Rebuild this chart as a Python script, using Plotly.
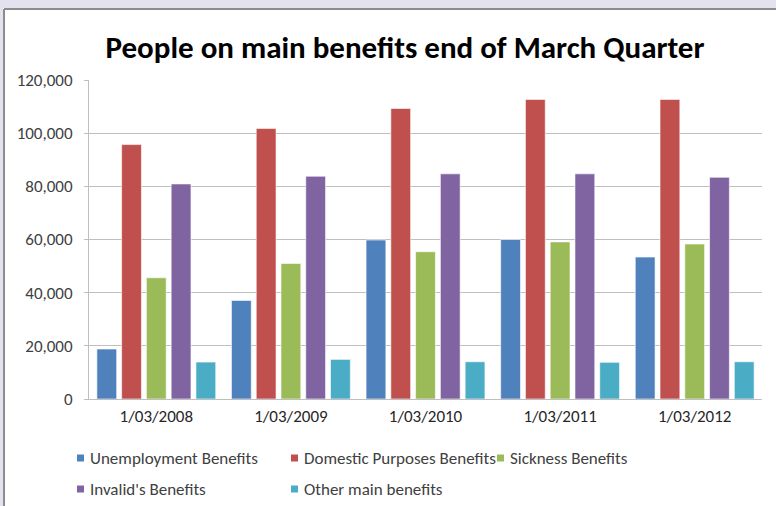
import plotly.graph_objects as go

categories = ["1/03/2008", "1/03/2009", "1/03/2010", "1/03/2011", "1/03/2012"]
unemployment = [18800, 37100, 59800, 60000, 53400]
domestic = [95700, 101800, 109300, 112700, 112700]
sickness = [45600, 51000, 55400, 59100, 58300]
invalids = [80900, 83800, 84700, 84700, 83400]
other = [13900, 14900, 14000, 13800, 14000]

series_names = ["Unemployment Benefits", "Domestic Purposes Benefits", "Sickness Benefits",
                "Invalid's Benefits", "Other main benefits"]
series_values = [unemployment, domestic, sickness, invalids, other]
colors = ["#4F81BD", "#C0504D", "#9BBB59", "#8064A2", "#4BACC6"]

W, H = 776, 506
L, R, T, B = 89, 14, 80, 107
pw, ph = W - L - R, H - T - B

def px_x(p):
    return (p - L) / pw

def px_y(p):
    return (H - B - p) / ph

FONT = "Calibri, Carlito, 'Open Sans', sans-serif"

fig = go.Figure()
for name, vals, c in zip(series_names, series_values, colors):
    fig.add_trace(go.Bar(
        x=categories, y=vals, name=name, showlegend=False,
        marker=dict(color=c, line=dict(color="rgba(255,255,255,0.6)", width=1)),
    ))

shapes = [
    dict(type="rect", xref="paper", yref="paper", x0=px_x(0), x1=px_x(W), y0=px_y(0), y1=px_y(8),
         fillcolor="#E4E2EE", line=dict(width=0), layer="above"),
    dict(type="rect", xref="paper", yref="paper", x0=px_x(0), x1=px_x(3), y0=px_y(0), y1=px_y(H),
         fillcolor="#E4E2EE", line=dict(width=0), layer="above"),
    dict(type="line", xref="paper", yref="paper", x0=px_x(4), x1=px_x(W), y0=px_y(9), y1=px_y(9),
         line=dict(color="#8C8C8C", width=2), layer="above"),
    dict(type="line", xref="paper", yref="paper", x0=px_x(4), x1=px_x(4), y0=px_y(9), y1=px_y(H),
         line=dict(color="#8C8C8C", width=2), layer="above"),
]

# legend laid out like the original (two rows)
legend_pos = [(77, 458), (291, 458), (497, 458), (77, 489), (291, 489)]
annotations = []
for name, c, (lx, ly) in zip(series_names, colors, legend_pos):
    shapes.append(dict(type="rect", xref="paper", yref="paper",
                       x0=px_x(lx), x1=px_x(lx + 7), y0=px_y(ly - 3.5), y1=px_y(ly + 3.5),
                       fillcolor=c, line=dict(width=0), layer="above"))
    annotations.append(dict(text=name, xref="paper", yref="paper", x=px_x(lx + 11), y=px_y(ly),
                            xanchor="left", yanchor="middle", showarrow=False,
                            font=dict(family=FONT, size=17, color="#404040")))

fig.update_layout(
    width=W, height=H,
    margin=dict(l=L, r=R, t=T, b=B),
    paper_bgcolor="white", plot_bgcolor="white",
    barmode="group", bargap=0.08, bargroupgap=0.2,
    title=dict(text="<b>People on main benefits end of March Quarter</b>",
               xref="container", yref="container",
               x=405 / W, xanchor="center", y=1 - 47 / H, yanchor="middle",
               font=dict(family=FONT, size=31, color="black")),
    font=dict(family=FONT, size=17, color="#404040"),
    xaxis=dict(showgrid=False, showline=True, linecolor="#BFBFBF", linewidth=1,
               tickfont=dict(size=17, color="#262626"), ticks="", ticklabelstandoff=2),
    yaxis=dict(range=[0, 120000], dtick=20000, tickformat=",", showgrid=True,
               gridcolor="#BFBFBF", gridwidth=1, showline=True, linecolor="#BFBFBF",
               ticks="outside", ticklen=4, tickcolor="#BFBFBF", ticklabelstandoff=8,
               tickfont=dict(size=17, color="#404040"), zeroline=False),
    shapes=shapes,
    annotations=annotations,
    showlegend=False,
)

fig.write_html("out.html")
